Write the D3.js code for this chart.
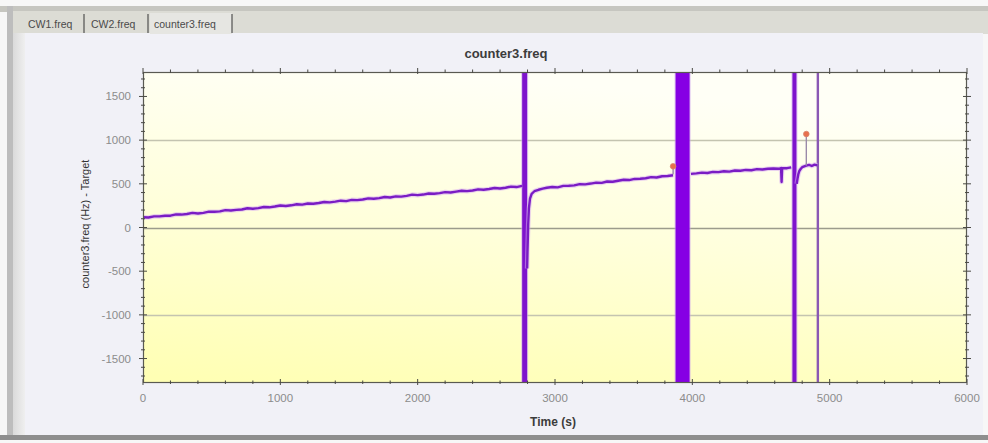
<!DOCTYPE html>
<html>
<head>
<meta charset="utf-8">
<script src="https://cdn.jsdelivr.net/npm/d3@7"></script>
<style>
  html, body { margin: 0; padding: 0; background: #f7f7f7; }
  svg { display: block; font-family: "Liberation Sans", Arial, sans-serif; }
</style>
</head>
<body>
<svg id="chart" width="988" height="443"></svg>
<script>
// ---- data ----
const tabs = ["CW1.freq", "CW2.freq", "counter3.freq"];
const xTicks = [0, 1000, 2000, 3000, 4000, 5000, 6000];
const yTicks = [-1500, -1000, -500, 0, 500, 1000, 1500];
const gridLevels = [-1000, 0, 1000];

// counter3.freq minus target (Hz) against time (s); null marks a gap where the counter lost lock
const times = [
  0, 40, 80, 120, 160, 200, 240, 280, 320, 360, 400, 440, 480, 520, 560, 600, 640, 680, 720, 760,
  800, 840, 880, 920, 960, 1000, 1040, 1080, 1120, 1160, 1200, 1240, 1280, 1320, 1360, 1400, 1440, 1480, 1520, 1560,
  1600, 1640, 1680, 1720, 1760, 1800, 1840, 1880, 1920, 1960, 2000, 2040, 2080, 2120, 2160, 2200, 2240, 2280, 2320, 2360,
  2400, 2440, 2480, 2520, 2560, 2600, 2640, 2680, 2720, 2760,
  2780,
  2797, 2800, 2805, 2810, 2818, 2830, 2850, 2880, 2910, 2940, 2980, 3020, 3060, 3100, 3140, 3180, 3220, 3260, 3300, 3340,
  3380, 3420, 3460, 3500, 3540, 3580, 3620, 3660, 3700, 3740, 3780, 3820, 3860,
  3930,
  3990, 4030, 4070, 4110, 4150, 4190, 4230, 4270, 4310, 4350, 4390, 4430, 4470, 4510, 4550, 4590, 4630, 4646, 4650, 4654, 4690, 4720,
  4745,
  4760, 4766, 4772, 4780, 4790, 4800, 4815, 4830, 4850, 4870, 4890, 4910
];
const freq = [
  117, 114, 127, 127, 134, 135, 150, 148, 154, 167, 160, 168, 181, 180, 184, 199, 195, 202, 206, 220,
  214, 222, 235, 231, 240, 252, 246, 254, 266, 262, 275, 272, 280, 292, 288, 296, 307, 302, 316, 313,
  320, 333, 329, 336, 349, 344, 356, 354, 362, 376, 371, 377, 389, 386, 393, 405, 401, 411, 420, 416,
  424, 437, 432, 441, 452, 446, 455, 468, 463, 476,
  null,
  -470, -250, 40, 220, 330, 385, 415, 432, 445, 455, 464, 459, 476, 478, 482, 497, 494, 503, 514, 511,
  527, 524, 535, 546, 543, 556, 558, 564, 577, 572, 587, 589, 598,
  null,
  614, 619, 628, 624, 636, 634, 644, 640, 652, 649, 659, 655, 668, 664, 673, 676, 672, 681, 520, 680, 679, 688,
  null,
  500, 560, 610, 650, 672, 690, 700, 708, 716, 704, 720, 712
];

// intervals where the reading runs off scale in both directions
const burstStart = [2761, 3878, 4729];
const burstEnd   = [2797, 3980, 4758];
// end-of-run cursor
const cursorTimes = [4914];
// flagged events (time, flagged value, reading at that time)
const eventTimes  = [3860, 4830];
const eventValues = [700, 1070];
const eventBase   = [606, 708];

// ---- layout ----
const svg = d3.select("#chart");
const plot = { left: 143, right: 967, top: 72, bottom: 383 };
const x = d3.scaleLinear().domain([0, 6000]).range([plot.left, plot.right]);
const y = d3.scaleLinear().domain([-1780, 1780]).range([plot.bottom, plot.top]);

const defs = svg.append("defs");
const bg = defs.append("linearGradient").attr("id", "plotBg")
  .attr("x1", "0.35").attr("y1", "0").attr("x2", "0.1").attr("y2", "1");
bg.append("stop").attr("offset", "0").attr("stop-color", "#fffff6");
bg.append("stop").attr("offset", "0.45").attr("stop-color", "#ffffdc");
bg.append("stop").attr("offset", "1").attr("stop-color", "#ffffb4");
const side = defs.append("linearGradient").attr("id", "sideBg")
  .attr("x1", "0").attr("y1", "0").attr("x2", "1").attr("y2", "0");
side.append("stop").attr("offset", "0").attr("stop-color", "#dadada");
side.append("stop").attr("offset", "1").attr("stop-color", "#efefef");
defs.append("clipPath").attr("id", "plotClip").append("rect")
  .attr("x", plot.left).attr("y", plot.top)
  .attr("width", plot.right - plot.left).attr("height", plot.bottom - plot.top);

// ---- window frame and tab strip ----
svg.append("rect").attr("width", 988).attr("height", 443).attr("fill", "#f7f7f7");
svg.append("rect").attr("x", 0).attr("y", 6).attr("width", 988).attr("height", 6).attr("fill", "#c6c6c0");
svg.append("rect").attr("x", 12).attr("y", 11).attr("width", 976).attr("height", 23).attr("fill", "#dcdcd5");
svg.append("rect").attr("x", 7).attr("y", 6).attr("width", 6).attr("height", 432).attr("fill", "#bdbdbd");
svg.append("rect").attr("x", 13).attr("y", 33).attr("width", 12).attr("height", 403).attr("fill", "url(#sideBg)");
svg.append("rect").attr("x", 25).attr("y", 33).attr("width", 958).attr("height", 403).attr("fill", "#f1f1f7");
svg.append("rect").attr("x", 0).attr("y", 435).attr("width", 988).attr("height", 5).attr("fill", "#8e8e8e");

const tabX = [28, 91, 154];
const tabSep = [84, 148, 232];
svg.append("rect").attr("x", 150).attr("y", 13).attr("width", 82).attr("height", 21).attr("fill", "#e6e6e2");
svg.selectAll(".tab").data(tabs).join("text")
  .attr("x", (d, i) => tabX[i]).attr("y", 28)
  .attr("font-size", 10.5).attr("fill", "#4a4a4a").text(d => d);
svg.selectAll(".tabsep").data(tabSep).join("line")
  .attr("x1", d => d).attr("x2", d => d).attr("y1", 14).attr("y2", 33)
  .attr("stroke", "#505050").attr("stroke-width", 1.2);

// ---- plot area ----
svg.append("rect").attr("x", plot.left).attr("y", plot.top)
  .attr("width", plot.right - plot.left).attr("height", plot.bottom - plot.top)
  .attr("fill", "url(#plotBg)");

svg.selectAll(".grid").data(gridLevels).join("line")
  .attr("x1", plot.left).attr("x2", plot.right)
  .attr("y1", d => Math.round(y(d)) + 0.5).attr("y2", d => Math.round(y(d)) + 0.5)
  .attr("stroke", d => d === 0 ? "#9c9c8c" : "#c4c4b0").attr("stroke-width", d => d === 0 ? 1.6 : 1.3);

const g = svg.append("g").attr("clip-path", "url(#plotClip)");

// off-scale bursts
g.selectAll(".burstHalo").data(burstStart).join("rect")
  .attr("x", (d, i) => x(d) - 1).attr("width", (d, i) => x(burstEnd[i]) - x(d) + 2)
  .attr("y", plot.top).attr("height", plot.bottom - plot.top)
  .attr("fill", "#c9a0ee").attr("opacity", 0.6);
g.selectAll(".burst").data(burstStart).join("rect")
  .attr("x", d => x(d)).attr("width", (d, i) => x(burstEnd[i]) - x(d))
  .attr("y", plot.top).attr("height", plot.bottom - plot.top)
  .attr("fill", (d, i) => i === 1 ? "#8600e4" : "#7e14cc");

g.selectAll(".cursor").data(cursorTimes).join("line")
  .attr("x1", d => x(d)).attr("x2", d => x(d)).attr("y1", plot.top).attr("y2", plot.bottom)
  .attr("stroke", "#8a58b4").attr("stroke-width", 2.4);

// series line
const pts = times.map((t, i) => ({ t, v: freq[i] }));
const line = d3.line().defined(d => d.v !== null).x(d => x(d.t)).y(d => y(d.v));
g.append("path").datum(pts).attr("d", line)
  .attr("fill", "none").attr("stroke", "#d9aef0").attr("stroke-width", 4.6).attr("opacity", 0.55)
  .attr("stroke-linejoin", "round");
g.append("path").datum(pts).attr("d", line)
  .attr("fill", "none").attr("stroke", "#7a1cc4").attr("stroke-width", 2.4)
  .attr("stroke-linejoin", "round");

// flagged events
g.selectAll(".stem").data(eventTimes).join("line")
  .attr("x1", d => x(d)).attr("x2", d => x(d))
  .attr("y1", (d, i) => y(eventValues[i])).attr("y2", (d, i) => y(eventBase[i]))
  .attr("stroke", "#9a8aa8").attr("stroke-width", 1.4);
g.selectAll(".event").data(eventTimes).join("circle")
  .attr("cx", d => x(d)).attr("cy", (d, i) => y(eventValues[i])).attr("r", 2.8)
  .attr("fill", "#e8704c").attr("stroke", "#d8846c").attr("stroke-width", 0.8);

// ---- frame and ticks ----
svg.append("rect").attr("x", plot.left + 0.5).attr("y", plot.top + 0.5)
  .attr("width", plot.right - plot.left - 1).attr("height", plot.bottom - plot.top - 1)
  .attr("fill", "none").attr("stroke", "#5a5a52").attr("stroke-width", 1.2);

const yMinor = d3.range(-1700, 1701, 100);
const xMinor = d3.range(0, 6001, 200);
const tickCol = "#4a4a44";
const ticks = svg.append("g").attr("stroke", tickCol).attr("stroke-width", 1);
[plot.left, plot.right].forEach(px => {
  ticks.selectAll(null).data(yMinor).join("line")
    .attr("x1", d => px - (d % 500 === 0 ? 4 : 2)).attr("x2", d => px + (d % 500 === 0 ? 4 : 2))
    .attr("y1", d => y(d)).attr("y2", d => y(d));
});
[plot.top, plot.bottom].forEach(py => {
  ticks.selectAll(null).data(xMinor).join("line")
    .attr("x1", d => x(d)).attr("x2", d => x(d))
    .attr("y1", d => py - (d % 1000 === 0 ? 4 : 2.5)).attr("y2", d => py + (d % 1000 === 0 ? 2 : 1));
});

// ---- labels ----
svg.selectAll(".ylab").data(yTicks).join("text")
  .attr("x", 131).attr("y", d => y(d) + 4)
  .attr("text-anchor", "end").attr("font-size", 11.5).attr("fill", "#8c8c8c")
  .text(d => d);
svg.selectAll(".xlab").data(xTicks).join("text")
  .attr("x", d => x(d)).attr("y", 402)
  .attr("text-anchor", "middle").attr("font-size", 11.5).attr("fill", "#8c8c8c")
  .text(d => d);

svg.append("text").attr("x", 506).attr("y", 58).attr("text-anchor", "middle")
  .attr("font-size", 13).attr("font-weight", "bold").attr("fill", "#3c3c3c")
  .text("counter3.freq");
svg.append("text").attr("x", 553).attr("y", 426).attr("text-anchor", "middle")
  .attr("font-size", 12).attr("font-weight", "bold").attr("fill", "#3c3c3c")
  .text("Time (s)");
svg.append("text").attr("transform", "translate(89,224) rotate(-90)").attr("text-anchor", "middle")
  .attr("font-size", 11).attr("fill", "#333")
  .text("counter3.freq (Hz) - Target");
</script>
</body>
</html>
